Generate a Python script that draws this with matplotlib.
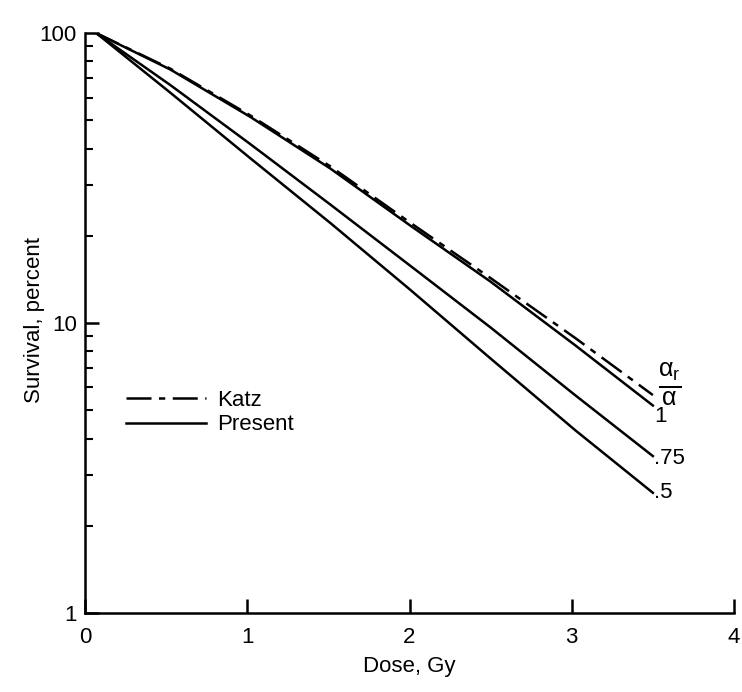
import matplotlib
matplotlib.use('Agg')
import matplotlib.pyplot as plt

plt.rcParams['font.family'] = ['Liberation Sans', 'DejaVu Sans']
plt.rcParams['mathtext.fontset'] = 'custom'
plt.rcParams['mathtext.rm'] = 'Liberation Sans'
plt.rcParams['mathtext.it'] = 'Liberation Sans'

# values
dose = [0.07, 0.525, 1.02, 1.51, 2.0, 2.5, 3.02, 3.5]
present_1 = [100, 75, 51.4, 34.2, 21.8, 13.9, 8.4, 5.2]
present_075 = [100, 66.3, 41.4, 25.7, 15.85, 9.66, 5.65, 3.48]
present_05 = [100, 62.4, 37.0, 22.2, 13.1, 7.55, 4.28, 2.6]
katz_1 = [100, 75.5, 52.0, 34.8, 22.3, 14.3, 8.9, 5.65]

end_labels = ['1', '.75', '.5']
end_values = [4.75, 3.42, 2.61]

fig = plt.figure(figsize=(7.42, 6.92), dpi=100)
ax = fig.add_axes([0.1146, 0.114, 0.8746, 0.838])

ax.plot(dose, katz_1, color='black', lw=1.8, dashes=(10, 3, 2.5, 3), label='Katz')
ax.plot(dose, present_1, color='black', lw=1.8, label='Present')
ax.plot(dose, present_075, color='black', lw=1.8)
ax.plot(dose, present_05, color='black', lw=1.8)

ax.set_yscale('log')
ax.set_xlim(0, 4)
ax.set_ylim(1, 100)
ax.set_xticks([0, 1, 2, 3, 4])
ax.set_yticks([1, 10, 100])
ax.set_yticklabels(['1', '10', '100'])
ax.spines['top'].set_visible(False)
ax.spines['right'].set_visible(False)
for s in ('left', 'bottom'):
    ax.spines[s].set_linewidth(1.8)
ax.tick_params(which='major', direction='in', length=10, width=1.8, labelsize=16, pad=6)
ax.tick_params(which='minor', direction='in', length=6, width=1.5)
ax.tick_params(axis='x', which='major', pad=10)

ax.set_xlabel('Dose, Gy', fontsize=16, labelpad=6)
ax.set_ylabel('Survival, percent', fontsize=16)
ax.yaxis.set_label_coords(-0.062, 0.505)

for lab, v in zip(end_labels, end_values):
    ax.text(3.51, v, lab, fontsize=16, va='center', ha='left')
ax.text(3.53, 6.15, r'$\frac{\alpha_r}{\alpha}$', fontsize=26, va='center', ha='left')

ax.legend(loc='upper left', bbox_to_anchor=(0.05, 0.40), frameon=False,
          fontsize=16, handlelength=3.6, handletextpad=0.5, labelspacing=0.15,
          borderaxespad=0)

fig.savefig('out.png', dpi=100)
